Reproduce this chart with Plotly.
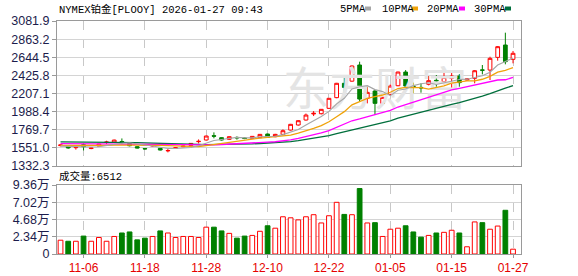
import plotly.graph_objects as go

# ---------------- data ----------------
dates = [
    "2025-11-03", "2025-11-04", "2025-11-05", "2025-11-06", "2025-11-07",
    "2025-11-10", "2025-11-11", "2025-11-12", "2025-11-13", "2025-11-14",
    "2025-11-17", "2025-11-18", "2025-11-19", "2025-11-20", "2025-11-21",
    "2025-11-24", "2025-11-25", "2025-11-26", "2025-11-27", "2025-11-28",
    "2025-12-01", "2025-12-02", "2025-12-03", "2025-12-04", "2025-12-05",
    "2025-12-08", "2025-12-09", "2025-12-10", "2025-12-11", "2025-12-12",
    "2025-12-15", "2025-12-16", "2025-12-17", "2025-12-18", "2025-12-19",
    "2025-12-22", "2025-12-23", "2025-12-24", "2025-12-26", "2025-12-29",
    "2025-12-30", "2025-12-31", "2026-01-02", "2026-01-05", "2026-01-06",
    "2026-01-07", "2026-01-08", "2026-01-09", "2026-01-12", "2026-01-13",
    "2026-01-14", "2026-01-15", "2026-01-16", "2026-01-19", "2026-01-20",
    "2026-01-21", "2026-01-22", "2026-01-23", "2026-01-26", "2026-01-27",
]

opens = [
    1578, 1577, 1553, 1589, 1543, 1573, 1617, 1617, 1628, 1605,
    1565, 1543, 1573, 1545, 1515, 1545, 1565, 1581, 1626, 1646,
    1698, 1674, 1654, 1677, 1670, 1666, 1674, 1718, 1686, 1714,
    1766, 1827, 1887, 1960, 1963, 2028, 2157, 2330, 2356, 2551,
    2148, 2237, 2088, 2197, 2301, 2466, 2295, 2281, 2318, 2366,
    2350, 2390, 2418, 2370, 2390, 2492, 2490, 2643, 2792, 2619,
]
highs = [
    1590, 1580, 1560, 1605, 1555, 1600, 1637, 1650, 1665, 1610,
    1570, 1548, 1585, 1550, 1537, 1558, 1578, 1610, 1653, 1698,
    1738, 1678, 1690, 1690, 1675, 1694, 1718, 1722, 1720, 1774,
    1840, 1885, 1965, 1995, 2020, 2152, 2335, 2398, 2545, 2591,
    2289, 2250, 2165, 2317, 2470, 2490, 2338, 2330, 2418, 2430,
    2470, 2458, 2442, 2388, 2490, 2551, 2651, 2780, 2941, 2720,
]
lows = [
    1570, 1541, 1530, 1520, 1535, 1570, 1597, 1612, 1597, 1570,
    1545, 1530, 1568, 1520, 1497, 1540, 1560, 1577, 1605, 1640,
    1666, 1640, 1648, 1650, 1656, 1660, 1670, 1672, 1680, 1702,
    1760, 1820, 1880, 1935, 1955, 2020, 2150, 2169, 2350, 2108,
    2088, 1947, 2080, 2181, 2295, 2249, 2210, 2217, 2305, 2289,
    2318, 2249, 2289, 2362, 2330, 2438, 2370, 2603, 2559, 2571,
]
closes = [
    1586, 1550, 1557, 1565, 1549, 1597, 1621, 1645, 1622, 1577,
    1549, 1539, 1581, 1525, 1519, 1552, 1572, 1605, 1630, 1694,
    1692, 1646, 1686, 1672, 1664, 1690, 1714, 1678, 1714, 1758,
    1835, 1879, 1947, 1968, 2016, 2149, 2330, 2281, 2539, 2140,
    2221, 2088, 2161, 2297, 2466, 2297, 2287, 2275, 2362, 2360,
    2402, 2418, 2338, 2382, 2482, 2488, 2631, 2772, 2591, 2692,
]
volumes = [
    18700, 17300, 17300, 24300, 17300, 22400, 17300, 23800, 28500, 29900,
    19200, 21500, 23800, 31300, 28500, 22400, 23800, 23800, 22400, 36400,
    36400, 31300, 28000, 21500, 24300, 25200, 30800, 38300, 35000, 50500,
    49100, 46300, 50500, 53300, 42100, 51900, 70100, 53700, 53300, 88800,
    42100, 42500, 23800, 33600, 35000, 38300, 29900, 22900, 25200, 28500,
    29400, 32200, 28500, 9800, 43500, 42500, 33600, 37900, 59300, 6512,
]
ma5 = [
    1572, 1568, 1565, 1563, 1561, 1564, 1578, 1595, 1607, 1612,
    1603, 1586, 1574, 1554, 1543, 1543, 1550, 1555, 1576, 1611,
    1639, 1653, 1670, 1678, 1672, 1672, 1685, 1684, 1692, 1711,
    1740, 1773, 1827, 1877, 1929, 1992, 2082, 2149, 2263, 2288,
    2302, 2254, 2230, 2181, 2247, 2262, 2302, 2324, 2337, 2316,
    2337, 2363, 2376, 2380, 2404, 2422, 2464, 2551, 2593, 2635,
]
ma10 = [
    1580, 1579, 1578, 1577, 1576, 1577, 1580, 1584, 1586, 1587,
    1583, 1582, 1585, 1581, 1578, 1573, 1568, 1564, 1565, 1577,
    1591, 1602, 1612, 1627, 1641, 1655, 1669, 1677, 1685, 1691,
    1706, 1729, 1755, 1785, 1820, 1866, 1927, 1988, 2070, 2108,
    2147, 2168, 2189, 2222, 2267, 2282, 2278, 2277, 2259, 2281,
    2300, 2333, 2350, 2359, 2360, 2379, 2414, 2464, 2486, 2520,
]
ma20 = [
    1603, 1602, 1601, 1600, 1599, 1598, 1597, 1597, 1596, 1595,
    1594, 1592, 1590, 1588, 1586, 1584, 1582, 1581, 1581, 1582,
    1587, 1592, 1598, 1604, 1609, 1614, 1619, 1620, 1625, 1634,
    1648, 1665, 1684, 1706, 1731, 1760, 1798, 1832, 1878, 1900,
    1926, 1948, 1972, 2003, 2044, 2074, 2103, 2132, 2165, 2195,
    2223, 2250, 2270, 2290, 2314, 2331, 2346, 2370, 2373, 2401,
]
ma30 = [
    1624, 1624, 1623, 1623, 1622, 1622, 1621, 1620, 1619, 1618,
    1615, 1612, 1608, 1604, 1600, 1597, 1595, 1593, 1592, 1591,
    1591, 1592, 1593, 1595, 1597, 1600, 1604, 1608, 1613, 1618,
    1627, 1638, 1651, 1664, 1680, 1698, 1722, 1743, 1773, 1792,
    1815, 1833, 1852, 1878, 1909, 1934, 1958, 1980, 2005, 2027,
    2051, 2076, 2098, 2122, 2149, 2176, 2206, 2243, 2272, 2303,
]

tick_dates = ["2025-11-06", "2025-11-18", "2025-11-28", "2025-12-10",
              "2025-12-22", "2026-01-05", "2026-01-15", "2026-01-27"]
tick_labels = ["11-06", "11-18", "11-28", "12-10", "12-22", "01-05", "01-15", "01-27"]
price_ticks = [1332.3, 1551.0, 1769.7, 1988.4, 2207.1, 2425.8, 2644.5, 2863.2, 3081.9]
vol_ticks = [0, 23400, 46800, 70200, 93600]
vol_tick_labels = ["0", "2.34万", "4.68万", "7.02万", "9.36万"]
ma_names = ["5PMA", "10PMA", "20PMA", "30PMA"]
title_text = "NYMEX铂金[PLOOY] 2026-01-27 09:43"
vol_title = "成交量:6512"
watermark = "东方财富"

# ---------------- style ----------------
RED = "#ff0000"
GREEN = "#008000"
MA_COLORS = ["#a6a6a6", "#f0a30a", "#ff00ff", "#006f3c"]
GRID = "#d4d4d4"
BORDER = "#9a9a9a"
LABEL = "#1c1c4c"
W, H = 578, 276
L, R, T, B = 57, 57, 21, 22
PW, PH = W - L - R, H - T - B


def px_x(px):
    return (px - L) / PW


def px_y(py):
    return (H - B - py) / PH


price_domain = [px_y(166), 1.0]
vol_domain = [0.0, px_y(185)]

fig = go.Figure()

# watermark (drawn first, under the candles)
fig.add_trace(go.Scatter(
    x=[dates[41]], y=[price_ticks[4]], mode="text", text=[watermark],
    textfont=dict(size=46, color="#e4e4e4", family="Noto Sans CJK SC"),
    hoverinfo="skip", showlegend=False, xaxis="x", yaxis="y"))

for vals, col, w in zip([ma30, ma20, ma10, ma5], MA_COLORS[::-1], [1.3, 1.3, 1.3, 1.1]):
    fig.add_trace(go.Scatter(x=dates, y=vals, mode="lines",
                             line=dict(color=col, width=w),
                             hoverinfo="skip", showlegend=False,
                             xaxis="x", yaxis="y"))

fig.add_trace(go.Candlestick(
    x=dates, open=opens, high=highs, low=lows, close=closes,
    increasing=dict(line=dict(color=RED, width=1), fillcolor="#ffffff"),
    decreasing=dict(line=dict(color=GREEN, width=1), fillcolor=GREEN),
    whiskerwidth=0, showlegend=False, xaxis="x", yaxis="y"))

up = [c >= o for o, c in zip(opens, closes)]
fig.add_trace(go.Bar(
    x=dates, y=volumes, width=0.62,
    marker=dict(color=["#ffffff" if u else GREEN for u in up],
                line=dict(color=[RED if u else GREEN for u in up], width=1)),
    showlegend=False, xaxis="x2", yaxis="y2"))

xr = [-0.46, 60.04]
common_x = dict(type="category", categoryorder="array", categoryarray=dates,
                range=xr, tickvals=tick_dates, showgrid=True, automargin=False,
                gridcolor="#c8c8c8", griddash="dash", gridwidth=1,
                showline=True, mirror=True, linecolor=BORDER, linewidth=1,
                zeroline=False, fixedrange=True)

fig.update_layout(
    width=W, height=H, margin=dict(l=L, r=R, t=T, b=B, autoexpand=False),
    paper_bgcolor="white", plot_bgcolor="white", showlegend=False,
    bargap=0.3,
    xaxis=dict(**common_x, domain=[0, 1], anchor="y", showticklabels=False,
               rangeslider=dict(visible=False)),
    xaxis2=dict(**common_x, domain=[0, 1], anchor="y2",
                ticktext=tick_labels, ticks="outside", ticklen=3,
                tickcolor=BORDER,
                tickfont=dict(family="Liberation Sans", size=12, color="#e60000")),
    yaxis=dict(domain=price_domain, range=[price_ticks[0], price_ticks[-1]],
               tickvals=price_ticks, ticktext=[f"{v:.1f}" for v in price_ticks],
               showgrid=True, gridcolor=GRID, gridwidth=1, automargin=False,
               showline=True, mirror=True, linecolor=BORDER, zeroline=False,
               ticks="outside", ticklen=4, tickcolor=BORDER,
               tickfont=dict(family="Liberation Sans", size=12.5, color=LABEL),
               fixedrange=True),
    yaxis2=dict(domain=vol_domain, range=[vol_ticks[0], vol_ticks[-1]],
                tickvals=vol_ticks, ticktext=vol_tick_labels,
                showgrid=True, gridcolor=GRID, gridwidth=1, automargin=False,
                showline=True, mirror=True, linecolor=BORDER, zeroline=False,
                ticks="outside", ticklen=4, tickcolor=BORDER,
                tickfont=dict(family="Liberation Sans, Noto Sans CJK SC", size=12.5, color=LABEL),
                fixedrange=True),
)

mono = "Liberation Mono, Noto Sans CJK SC"
ann = [
    dict(text=title_text, x=px_x(57), y=px_y(9), xanchor="left", yanchor="middle",
         font=dict(family=mono, size=10.5, color="#000000")),
    dict(text=vol_title, x=px_x(57), y=px_y(176), xanchor="left", yanchor="middle",
         font=dict(family=mono, size=10.5, color="#000000")),
]
legend_x = [338, 380, 425, 472]
square_x = [368, 415, 462, 508]
for name, lx in zip(ma_names, legend_x):
    ann.append(dict(text=name, x=px_x(lx), y=px_y(9), xanchor="left", yanchor="middle",
                    font=dict(family=mono, size=10.5, color="#000000")))
for a in ann:
    a.update(xref="paper", yref="paper", showarrow=False)
fig.update_layout(annotations=ann)

shapes = []
for sx, col in zip(square_x, MA_COLORS):
    shapes.append(dict(type="rect", xref="paper", yref="paper",
                       x0=px_x(sx - 3), x1=px_x(sx + 3), y0=px_y(10.5), y1=px_y(6.5),
                       fillcolor=col, line=dict(width=0)))
fig.update_layout(shapes=shapes)

fig.write_html("out.html")
